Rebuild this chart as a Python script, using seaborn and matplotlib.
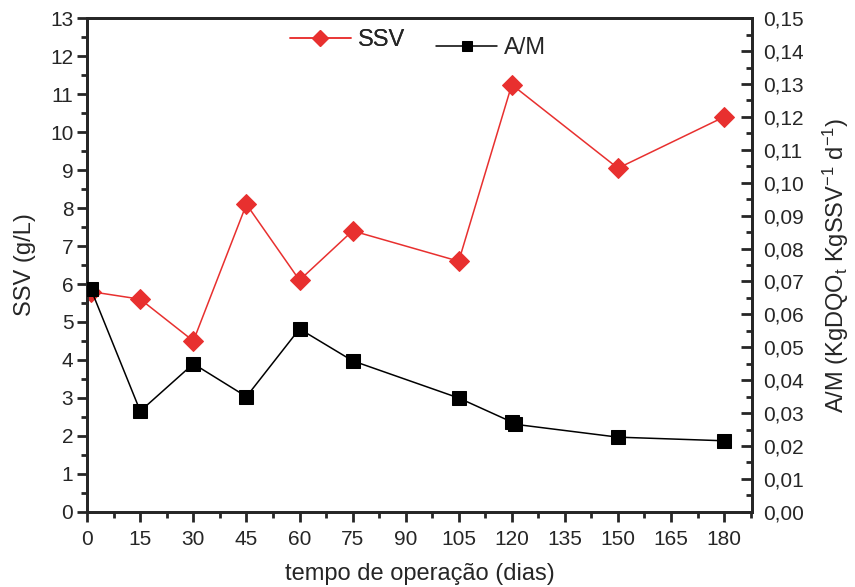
import pandas as pd
import matplotlib
matplotlib.use("Agg")
import matplotlib.pyplot as plt
import seaborn as sns
from matplotlib.ticker import MultipleLocator, FuncFormatter

# data
dias_ssv = [1, 15, 30, 45, 60, 75, 105, 120, 150, 180]
ssv = [5.8, 5.6, 4.5, 8.1, 6.1, 7.4, 6.6, 11.25, 9.05, 10.4]

dias_am = [1, 15, 30, 45, 60, 75, 105, 120, 121, 150, 180]
am = [0.0678, 0.0306, 0.0450, 0.0350, 0.0556, 0.0459, 0.0346, 0.0273, 0.0266, 0.0227, 0.0216]

x_ticks = [0, 15, 30, 45, 60, 75, 90, 105, 120, 135, 150, 165, 180]

df_ssv = pd.DataFrame({"dias": dias_ssv, "SSV": ssv})
df_am = pd.DataFrame({"dias": dias_am, "AM": am})

sns.set_style("ticks")
plt.rcParams["font.family"] = ["Liberation Sans", "DejaVu Sans"]
plt.rcParams["mathtext.fontset"] = "custom"
plt.rcParams["mathtext.rm"] = "Liberation Sans"
plt.rcParams["mathtext.it"] = "Liberation Sans"

fig = plt.figure(figsize=(8.55, 5.87), dpi=100)
ax = fig.add_axes([0.102, 0.128, 0.778, 0.841])
ax2 = ax.twinx()

red = "#e8302f"
sns.lineplot(data=df_ssv, x="dias", y="SSV", ax=ax, color=red, lw=1.1,
             marker="D", markersize=10, markeredgecolor=red, label="SSV",
             legend=False, zorder=3)
sns.lineplot(data=df_am, x="dias", y="AM", ax=ax2, color="black", lw=1.1,
             marker="s", markersize=9.5, markeredgecolor="black", label="A/M",
             legend=False, zorder=3)

ax.set_xlim(0, 188)
ax.set_ylim(0, 13)
ax2.set_ylim(0, 0.15)

ax.set_xticks(x_ticks)
ax.xaxis.set_minor_locator(MultipleLocator(7.5))
ax.yaxis.set_major_locator(MultipleLocator(1))
ax.yaxis.set_minor_locator(MultipleLocator(0.5))
ax2.yaxis.set_major_locator(MultipleLocator(0.01))
ax2.yaxis.set_minor_locator(MultipleLocator(0.005))
ax2.yaxis.set_major_formatter(FuncFormatter(lambda v, p: f"{v:.2f}".replace(".", ",")))

for a in (ax, ax2):
    for s in a.spines.values():
        s.set_linewidth(2)
        s.set_visible(True)

ax.tick_params(axis="both", which="major", direction="out", length=7, width=2,
               labelsize=15, pad=3)
ax.tick_params(axis="both", which="minor", direction="out", length=4, width=2)
ax.tick_params(axis="x", pad=6)
ax2.tick_params(axis="y", which="major", direction="in", length=8, width=2,
                labelsize=15, pad=8)
ax2.tick_params(axis="y", which="minor", direction="in", length=4, width=2)

ax.set_xlabel("tempo de operação (dias)", fontsize=17, labelpad=10)
ax.set_ylabel("SSV (g/L)", fontsize=17, labelpad=10)
ax2.set_ylabel(r"A/M (KgDQO$_{\mathregular{t}}$ KgSSV$^{\mathregular{-1}}$ d$^{\mathregular{-1}}$)",
               fontsize=17, labelpad=12, rotation=90)

leg1 = ax.legend(loc="center left", bbox_to_anchor=(0.29, 0.955), frameon=False,
                 fontsize=17, handlelength=2.6, handletextpad=0.3, borderaxespad=0,
                 markerscale=0.8)
ax.add_artist(leg1)
ax2.legend(loc="center left", bbox_to_anchor=(0.51, 0.94), frameon=False,
           fontsize=17, handlelength=2.6, handletextpad=0.3, borderaxespad=0,
           markerscale=0.8)

fig.savefig("out.png", dpi=100)
